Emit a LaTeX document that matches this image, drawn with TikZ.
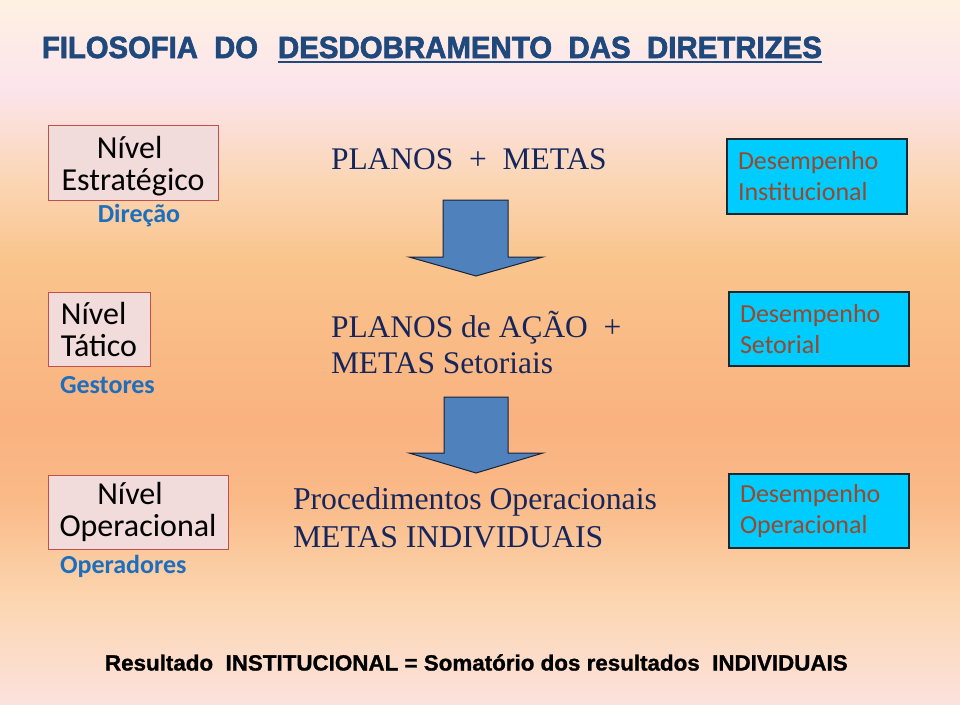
\documentclass[tikz,border=0pt]{standalone}
\usepackage{graphicx}
\usepackage{fontspec}
\setmainfont{Liberation Serif}
\newfontfamily\calib{Carlito}
\newfontfamily\arialf{Liberation Sans}
\newfontfamily\titlef{Liberation Sans}[BoldFeatures={FakeBold=2.2}]
\newfontfamily\resultf{Liberation Sans}[BoldFeatures={FakeBold=1.2}]
\definecolor{bgA}{RGB}{254,241,226}
\definecolor{bgB}{RGB}{252,228,236}
\definecolor{bgC}{RGB}{251,214,180}
\definecolor{bgD}{RGB}{250,196,140}
\definecolor{bgE}{RGB}{249,178,128}
\definecolor{bgF}{RGB}{250,186,136}
\definecolor{bgG}{RGB}{252,214,176}
\definecolor{bgH}{RGB}{252,226,222}
\definecolor{titleblue}{RGB}{31,73,125}
\definecolor{navy}{RGB}{22,38,92}
\definecolor{brownred}{RGB}{152,72,45}
\definecolor{labelblue}{RGB}{30,110,190}
\definecolor{nivelfill}{RGB}{242,220,219}
\definecolor{nivelline}{RGB}{192,80,77}
\definecolor{cyanfill}{RGB}{0,204,255}
\definecolor{cyanline}{RGB}{20,40,50}
\definecolor{arrowfill}{RGB}{79,129,189}
\definecolor{arrowline}{RGB}{25,35,55}
\tikzset{
  nivelbox/.style={draw=nivelline, fill=nivelfill, line width=0.75pt,
    font=\calib\fontsize{24}{24}\selectfont, text=black},
  niveltext/.style={font=\calib\fontsize{24}{24}\selectfont, text=black, align=center},
  desbox/.style={draw=cyanline, fill=cyanfill, line width=1pt,
    font=\calib\fontsize{19.5}{23.25}\selectfont, text=brownred,
    align=left, inner xsep=8.25pt, text width=118.5pt, minimum height=55.5pt},
  rolelabel/.style={font=\calib\bfseries\fontsize{19.5}{19.5}\selectfont, text=labelblue},
  plantext/.style={font=\fontsize{23.6}{27}\selectfont, text=navy, align=left, anchor=west},
  blockarrow/.style={fill=arrowfill, draw=arrowline, line width=0.75pt, line join=miter},
  titletext/.style={anchor=base west, text=titleblue, font=\titlef\bfseries\fontsize{23}{23}\selectfont},
}
\begin{document}
\begin{tikzpicture}[x=0.75pt,y=-0.75pt, every node/.style={inner sep=0pt, outer sep=0pt}]
\useasboundingbox (0,0) rectangle (960,704);
% background
\shade[top color=bgA, bottom color=bgB] (0,-1) rectangle (960,91);
\shade[top color=bgB, bottom color=bgC] (0,90) rectangle (960,181);
\shade[top color=bgC, bottom color=bgD] (0,180) rectangle (960,261);
\shade[top color=bgD, bottom color=bgE] (0,260) rectangle (960,421);
\shade[top color=bgE, bottom color=bgF] (0,420) rectangle (960,501);
\shade[top color=bgF, bottom color=bgG] (0,500) rectangle (960,601);
\shade[top color=bgG, bottom color=bgH] (0,600) rectangle (960,705);

% title
\node[titletext] (t1) at (42,58) {\resizebox{162pt}{\height}{FILOSOFIA~~DO}};
\node[titletext] (t2) at (278,58) {\resizebox{408pt}{\height}{DESDOBRAMENTO~~DAS~~DIRETRIZES}};
\draw[titleblue, line width=1.5pt] ([yshift=-3.3pt]t2.base west) -- ([yshift=-3.3pt]t2.base east);

% left level boxes
\node[nivelbox, minimum width=127.5pt, minimum height=56.25pt] (n1) at (133,162.5) {};
\node[niveltext] (n1t) at ([yshift=-2.5pt]n1.center) {Nível\hspace*{5pt}\\Estratégico};
\node[rolelabel] (r1) at (139,216) {Direção};
\node[nivelbox, align=left, minimum width=76.5pt, minimum height=55.5pt] (n2) at (99,329) {Nível\\Tático};
\node[rolelabel, anchor=west] (r2) at (60,385) {Gestores};
\node[nivelbox, align=center, minimum width=135pt, minimum height=55.5pt] (n3) at (138,512) {Nível\hspace*{12pt}\\Operacional};
\node[rolelabel, anchor=west] (r3) at (60,566) {Operadores};

% middle texts
\node[plantext] (p1) at (331,159) {PLANOS~~+~~METAS};
\node[plantext] (p2) at (331,342) {PLANOS de AÇÃO~~+\\METAS Setoriais};
\node[plantext, font=\fontsize{23.8}{28.5}\selectfont] (p3) at (293,518) {Procedimentos Operacionais\\METAS INDIVIDUAIS};

% right boxes
\node[desbox, minimum height=56.25pt] (d1) at (817,176.5) {Desempenho\\Institucional};
\node[desbox] (d2) at (819,329) {Desempenho\\Setorial};
\node[desbox] (d3) at (819,511) {Desempenho\\Operacional};

% block arrows
\draw[blockarrow] (443,200) -- (508,200) -- (508,257) -- (543,257) -- (476,276) -- (409,257) -- (443,257) -- cycle;
\draw[blockarrow] (444,397) -- (508,397) -- (508,453) -- (543,453) -- (476,473) -- (409,453) -- (444,453) -- cycle;

% bottom line
\node[anchor=base west, text=black, font=\resultf\bfseries\fontsize{16.5}{16.5}\selectfont]
  (res) at (105,670.5) {\resizebox{557pt}{\height}{Resultado~~INSTITUCIONAL = Somatório dos resultados~~INDIVIDUAIS}};
\end{tikzpicture}
\end{document}
